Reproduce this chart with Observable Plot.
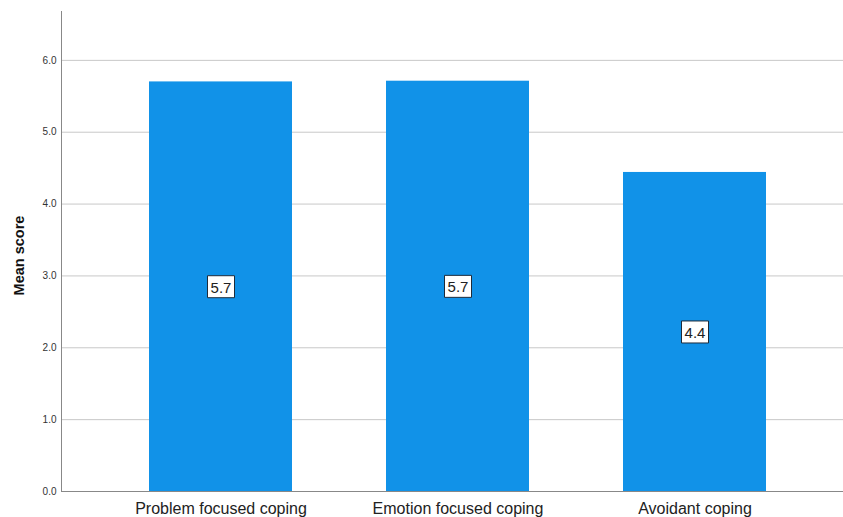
<!DOCTYPE html>
<html>
<head>
<meta charset="utf-8">
<script src="https://cdn.jsdelivr.net/npm/d3@7"></script>
<script src="https://cdn.jsdelivr.net/npm/@observablehq/plot@0.6"></script>
<style>
  html, body { margin: 0; padding: 0; background: #fff; }
  #chart svg { font-family: "Liberation Sans", Arial, sans-serif; display: block; }
</style>
</head>
<body>
<div id="chart"></div>
<script>
const categories = ["Problem focused coping", "Emotion focused coping", "Avoidant coping"];
const means = [5.70, 5.71, 4.44];
const labels = ["5.7", "5.7", "4.4"];
const yTicks = [0, 1, 2, 3, 4, 5, 6];

const data = categories.map((c, i) => ({category: c, mean: means[i], label: labels[i]}));

const boxSymbol = {
  draw(ctx) { ctx.rect(-13.5, -11, 27, 22); }
};

const chart = Plot.plot({
  width: 843,
  height: 517,
  marginLeft: 61,
  marginRight: 0,
  marginTop: 11,
  marginBottom: 26,
  style: {fontFamily: "Liberation Sans, Arial, sans-serif", background: "#fff"},
  x: {domain: categories, range: [61, 855], paddingInner: 0.395, paddingOuter: 0.366, label: null},
  y: {domain: [0, 6.68], label: null},
  marks: [
    Plot.ruleY(yTicks.filter(d => d > 0), {stroke: "#c8c8c8", strokeWidth: 1}),
    Plot.barY(data, {x: "category", y: "mean", fill: "#1192e8"}),
    Plot.dot(data, {x: "category", y: d => d.mean / 2, symbol: boxSymbol, r: 1, fill: "#fff", stroke: "#1d2b3a", strokeWidth: 1, strokeOpacity: 1}),
    Plot.text(data, {x: "category", y: d => d.mean / 2, text: "label", fill: "#222", fontSize: 15, dy: 1}),
    Plot.axisY({ticks: yTicks, tickFormat: d3.format(".1f"), tickSize: 0, tickPadding: 5, fontSize: 10, color: "#333", label: null}),
    Plot.axisX({tickSize: 0, tickPadding: 11, fontSize: 16, color: "#222", label: null}),
    Plot.frame({anchor: "left", stroke: "#888"}),
    Plot.ruleY([0], {stroke: "#888"}),
    Plot.text(["Mean score"], {frameAnchor: "left", textAnchor: "middle", dx: -42, dy: 4, rotate: -90, fontWeight: "bold", fontSize: 14.5, fill: "#111"})
  ]
});

document.getElementById("chart").appendChild(chart);
</script>
</body>
</html>
